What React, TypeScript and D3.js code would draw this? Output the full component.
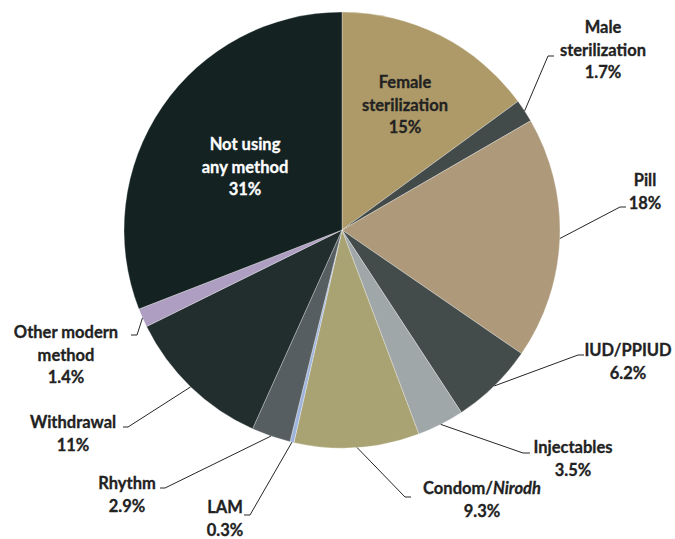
import React from "react";
import * as d3 from "d3";

const categories = [
  "Female sterilization",
  "Male sterilization",
  "Pill",
  "IUD/PPIUD",
  "Injectables",
  "Condom/Nirodh",
  "LAM",
  "Rhythm",
  "Withdrawal",
  "Other modern method",
  "Not using any method",
];
const values = [15, 1.7, 18, 6.2, 3.5, 9.3, 0.3, 2.9, 11, 1.4, 31];
const valueLabels = ["15%", "1.7%", "18%", "6.2%", "3.5%", "9.3%", "0.3%", "2.9%", "11%", "1.4%", "31%"];
const colors = [
  "#ad9a68",
  "#424b4a",
  "#ae9a7b",
  "#434c4a",
  "#a0a7a9",
  "#a9a272",
  "#9fb4dc",
  "#575e61",
  "#222d2d",
  "#ad9ec2",
  "#142222",
];

// label layout: text lines, text center x, first line center y, elbow point, horizontal end x
type Seg = { t: string; italic?: boolean };
const labelLayout: {
  lines: Seg[][];
  x: number;
  y: number;
  color?: string;
  elbow?: [number, number];
  hx?: number;
}[] = [
  { lines: [[{ t: "Female" }], [{ t: "sterilization" }]], x: 405, y: 82 },
  { lines: [[{ t: "Male" }], [{ t: "sterilization" }]], x: 603, y: 27, elbow: [548, 56], hx: 554 },
  { lines: [[{ t: "Pill" }]], x: 645, y: 180, elbow: [620, 207], hx: 626 },
  { lines: [[{ t: "IUD/PPIUD" }]], x: 628, y: 350, elbow: [578, 355], hx: 584 },
  { lines: [[{ t: "Injectables" }]], x: 573, y: 447, elbow: [523, 453], hx: 530 },
  { lines: [[{ t: "Condom/" }, { t: "Nirodh", italic: true }]], x: 482, y: 488, elbow: [405, 497], hx: 411 },
  { lines: [[{ t: "LAM" }]], x: 225, y: 507, elbow: [250, 515], hx: 244 },
  { lines: [[{ t: "Rhythm" }]], x: 127, y: 483, elbow: [165, 488], hx: 160 },
  { lines: [[{ t: "Withdrawal" }]], x: 73, y: 422, elbow: [128, 427], hx: 123 },
  { lines: [[{ t: "Other modern" }], [{ t: "method" }]], x: 66, y: 332, elbow: [137, 335], hx: 131 },
  { lines: [[{ t: "Not using" }], [{ t: "any method" }]], x: 245, y: 144, color: "#ffffff" },
];

const W = 675;
const H = 539;
const cx = 342;
const cy = 230;
const R = 218;
const lineH = 22.5;

export default function App() {
  const data = categories.map((c, i) => ({ c, v: values[i], i }));
  const pie = d3.pie<any>().value((d) => d.v).sort(null).startAngle(0).endAngle(2 * Math.PI);
  const arcs = pie(data);
  const arc = d3.arc<any>().innerRadius(0).outerRadius(R);
  const font = "Lato, 'Open Sans', sans-serif";

  return (
    <svg width={W} height={H} style={{ position: "absolute", left: 0, top: 0 }} fontFamily={font}>
      <rect width={W} height={H} fill="#ffffff" />
      <g transform={`translate(${cx},${cy})`}>
        {arcs.map((a, i) => (
          <path key={i} d={arc(a) || ""} fill={colors[i]} stroke="#ffffff" strokeWidth={0.5} strokeOpacity={0.6} />
        ))}
      </g>
      {arcs.map((a, i) => {
        const L = labelLayout[i];
        if (!L.elbow) return null;
        const mid = (a.startAngle + a.endAngle) / 2;
        const sx = cx + R * Math.sin(mid);
        const sy = cy - R * Math.cos(mid);
        const path = d3.path();
        path.moveTo(sx, sy);
        path.lineTo(L.elbow[0], L.elbow[1]);
        path.lineTo(L.hx!, L.elbow[1]);
        return <path key={"l" + i} d={path.toString()} fill="none" stroke="#262626" strokeWidth={1} />;
      })}
      {labelLayout.map((L, i) => {
        const all = [...L.lines, [{ t: valueLabels[i] }]];
        const fill = L.color || "#222222";
        return (
          <text
            key={"t" + i}
            textAnchor="middle"
            fontSize={16.5}
            fontWeight="bold"
            fill={fill}
            stroke={fill}
            strokeWidth={0.3}
          >
            {all.map((segs, j) => (
              <tspan key={j} x={L.x} y={L.y + j * lineH} dominantBaseline="central">
                {segs.map((s, k) => (
                  <tspan key={k} fontStyle={s.italic ? "italic" : "normal"}>
                    {s.t}
                  </tspan>
                ))}
              </tspan>
            ))}
          </text>
        );
      })}
    </svg>
  );
}
